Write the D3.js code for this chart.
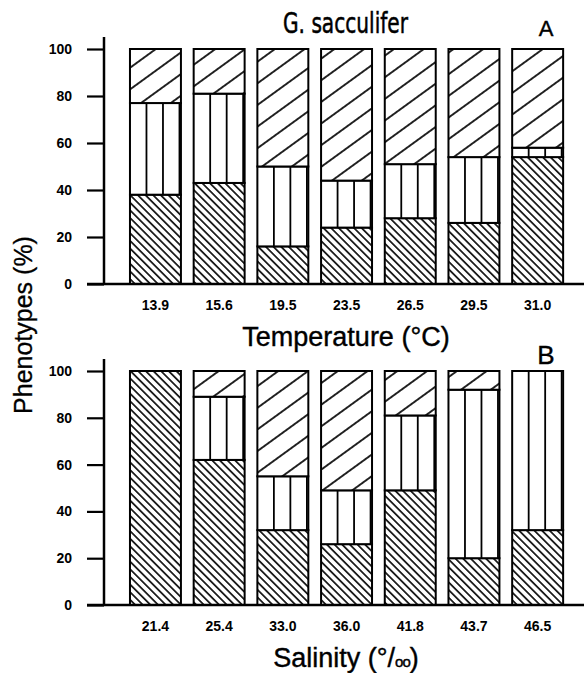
<!DOCTYPE html>
<html>
<head>
<meta charset="utf-8">
<script src="https://cdn.jsdelivr.net/npm/d3@7"></script>
<style>
  body { margin: 0; background: #fff; }
  svg { display: block; }
  text { fill: #000; }
</style>
</head>
<body>
<svg id="chart" width="584" height="673"></svg>
<script>
// phenotype shares (%) per sample; p1 = "\\\", p2 = "|||", p3 = "///"
const tempLabels = ["13.9", "15.6", "19.5", "23.5", "26.5", "29.5", "31.0"];
const tempP1 = [38, 43, 16, 24, 28, 26, 54];
const tempP2 = [39, 38, 34, 20, 23, 28, 4];
const tempP3 = [23, 19, 50, 56, 49, 46, 42];

const salLabels = ["21.4", "25.4", "33.0", "36.0", "41.8", "43.7", "46.5"];
const salP1 = [100, 62, 32, 26, 49, 20, 32];
const salP2 = [0, 27, 23, 23, 32, 72, 68];
const salP3 = [0, 11, 45, 51, 19, 8, 0];

const yTicks = [0, 20, 40, 60, 80, 100];

const svg = d3.select("#chart");
const defs = svg.append("defs");

// diagonal hatch: horizontal line in a tile, rotated
const hatch = (id, angle, gap, sw) => {
  const p = defs.append("pattern")
    .attr("id", id)
    .attr("patternUnits", "userSpaceOnUse")
    .attr("width", 20)
    .attr("height", gap)
    .attr("patternTransform", `rotate(${angle})`);
  p.append("rect").attr("width", 20).attr("height", gap).attr("fill", "#fff");
  p.append("line")
    .attr("x1", 0).attr("x2", 20)
    .attr("y1", gap / 2).attr("y2", gap / 2)
    .attr("stroke", "#000")
    .attr("stroke-width", sw);
};
hatch("down", 45, 5.4, 1.6);
hatch("up", -36, 17.5, 1.7);

const x = d3.scaleBand()
  .domain(d3.range(7))
  .range([123.6, 569.5])
  .paddingInner(0.2)
  .paddingOuter(0.1);

const keys = ["p1", "p2", "p3"];
const stack = d3.stack().keys(keys);

const drawPanel = (labels, p1, p2, p3, top, bottom, xTitle, tag) => {
  const y = d3.scaleLinear().domain([0, 100]).range([bottom, top]);
  const rows = labels.map((l, i) => ({ label: l, p1: p1[i], p2: p2[i], p3: p3[i] }));
  const series = stack(rows);
  const g = svg.append("g");

  series.forEach((s) => {
    const segs = s.map((d, i) => ({ i, y0: d[0], y1: d[1] })).filter((d) => d.y1 > d.y0);
    const fill = s.key === "p1" ? "url(#down)" : s.key === "p3" ? "url(#up)" : "#fff";

    g.selectAll(null)
      .data(segs)
      .enter()
      .append("rect")
      .attr("x", (d) => x(d.i))
      .attr("y", (d) => y(d.y1))
      .attr("width", x.bandwidth())
      .attr("height", (d) => y(d.y0) - y(d.y1))
      .attr("fill", fill);

    if (s.key === "p2") {
      const lines = [];
      segs.forEach((d) => {
        [1, 2, 3].forEach((k) => lines.push({ ...d, k }));
      });
      g.selectAll(null)
        .data(lines)
        .enter()
        .append("line")
        .attr("x1", (d) => x(d.i) + d.k * 16.5)
        .attr("x2", (d) => x(d.i) + d.k * 16.5)
        .attr("y1", (d) => y(d.y1))
        .attr("y2", (d) => y(d.y0))
        .attr("stroke", "#000")
        .attr("stroke-width", 1.8);
    }

    g.selectAll(null)
      .data(segs)
      .enter()
      .append("rect")
      .attr("x", (d) => x(d.i))
      .attr("y", (d) => y(d.y1))
      .attr("width", x.bandwidth())
      .attr("height", (d) => y(d.y0) - y(d.y1))
      .attr("fill", "none")
      .attr("stroke", "#000")
      .attr("stroke-width", 2);
  });

  // y axis
  const yAxis = g.append("g")
    .attr("transform", "translate(104,0)")
    .call(d3.axisLeft(y).tickValues(yTicks).tickSize(17).tickPadding(15));
  yAxis.select(".domain").remove();
  yAxis.selectAll(".tick line").attr("stroke", "#000").attr("stroke-width", 2.2);
  yAxis.selectAll(".tick text")
    .attr("font-family", "'Liberation Sans', Arial, sans-serif")
    .attr("font-weight", "bold")
    .attr("font-size", 14);
  g.append("line")
    .attr("x1", 104).attr("x2", 104)
    .attr("y1", y(0)).attr("y2", y(100) - 12)
    .attr("stroke", "#000").attr("stroke-width", 2.5);

  // x axis
  const xAxis = g.append("g")
    .attr("transform", `translate(0,${y(0)})`)
    .call(d3.axisBottom(x).tickSize(0).tickPadding(16).tickFormat((i) => labels[i]));
  xAxis.select(".domain").remove();
  xAxis.selectAll(".tick text")
    .attr("font-family", "'Liberation Sans', Arial, sans-serif")
    .attr("font-weight", "bold")
    .attr("font-size", 14);
  g.append("line")
    .attr("x1", 87).attr("x2", 584)
    .attr("y1", y(0)).attr("y2", y(0))
    .attr("stroke", "#000").attr("stroke-width", 2.5);

  const t = g.append("text")
    .attr("x", 346)
    .attr("y", y(0) + 62)
    .attr("text-anchor", "middle")
    .attr("font-family", "'Liberation Sans', Arial, sans-serif")
    .attr("font-size", 27)
    .attr("stroke", "#000")
    .attr("stroke-width", 0.4);
  xTitle(t);

  g.append("text")
    .attr("x", 546)
    .attr("y", tag.y)
    .attr("text-anchor", "middle")
    .attr("font-family", "'Liberation Sans', Arial, sans-serif")
    .attr("font-size", tag.size)
    .attr("stroke", "#000")
    .attr("stroke-width", 0.4)
    .text(tag.text);
};

drawPanel(tempLabels, tempP1, tempP2, tempP3, 49, 284,
  (t) => t.text("Temperature (°C)"),
  { text: "A", y: 36, size: 22 });

drawPanel(salLabels, salP1, salP2, salP3, 371, 605,
  (t) => {
    t.append("tspan").text("Salinity (°/");
    t.append("tspan").attr("font-size", 15).attr("letter-spacing", -1).text("oo");
    t.append("tspan").text(")");
  },
  { text: "B", y: 364, size: 26 });

// species name, squeezed to a condensed width
svg.append("text")
  .attr("x", 283)
  .attr("y", 33)
  .attr("font-family", "'Liberation Sans Narrow', 'DejaVu Sans Condensed', 'Liberation Sans', sans-serif")
  .attr("font-size", 28)
  .attr("textLength", 125)
  .attr("lengthAdjust", "spacingAndGlyphs")
  .attr("stroke", "#000")
  .attr("stroke-width", 0.5)
  .text("G. sacculifer");

svg.append("text")
  .attr("transform", "translate(32,325) rotate(-90)")
  .attr("text-anchor", "middle")
  .attr("font-family", "'Liberation Sans', Arial, sans-serif")
  .attr("font-size", 25)
  .attr("stroke", "#000")
  .attr("stroke-width", 0.3)
  .text("Phenotypes (%)");
</script>
</body>
</html>
